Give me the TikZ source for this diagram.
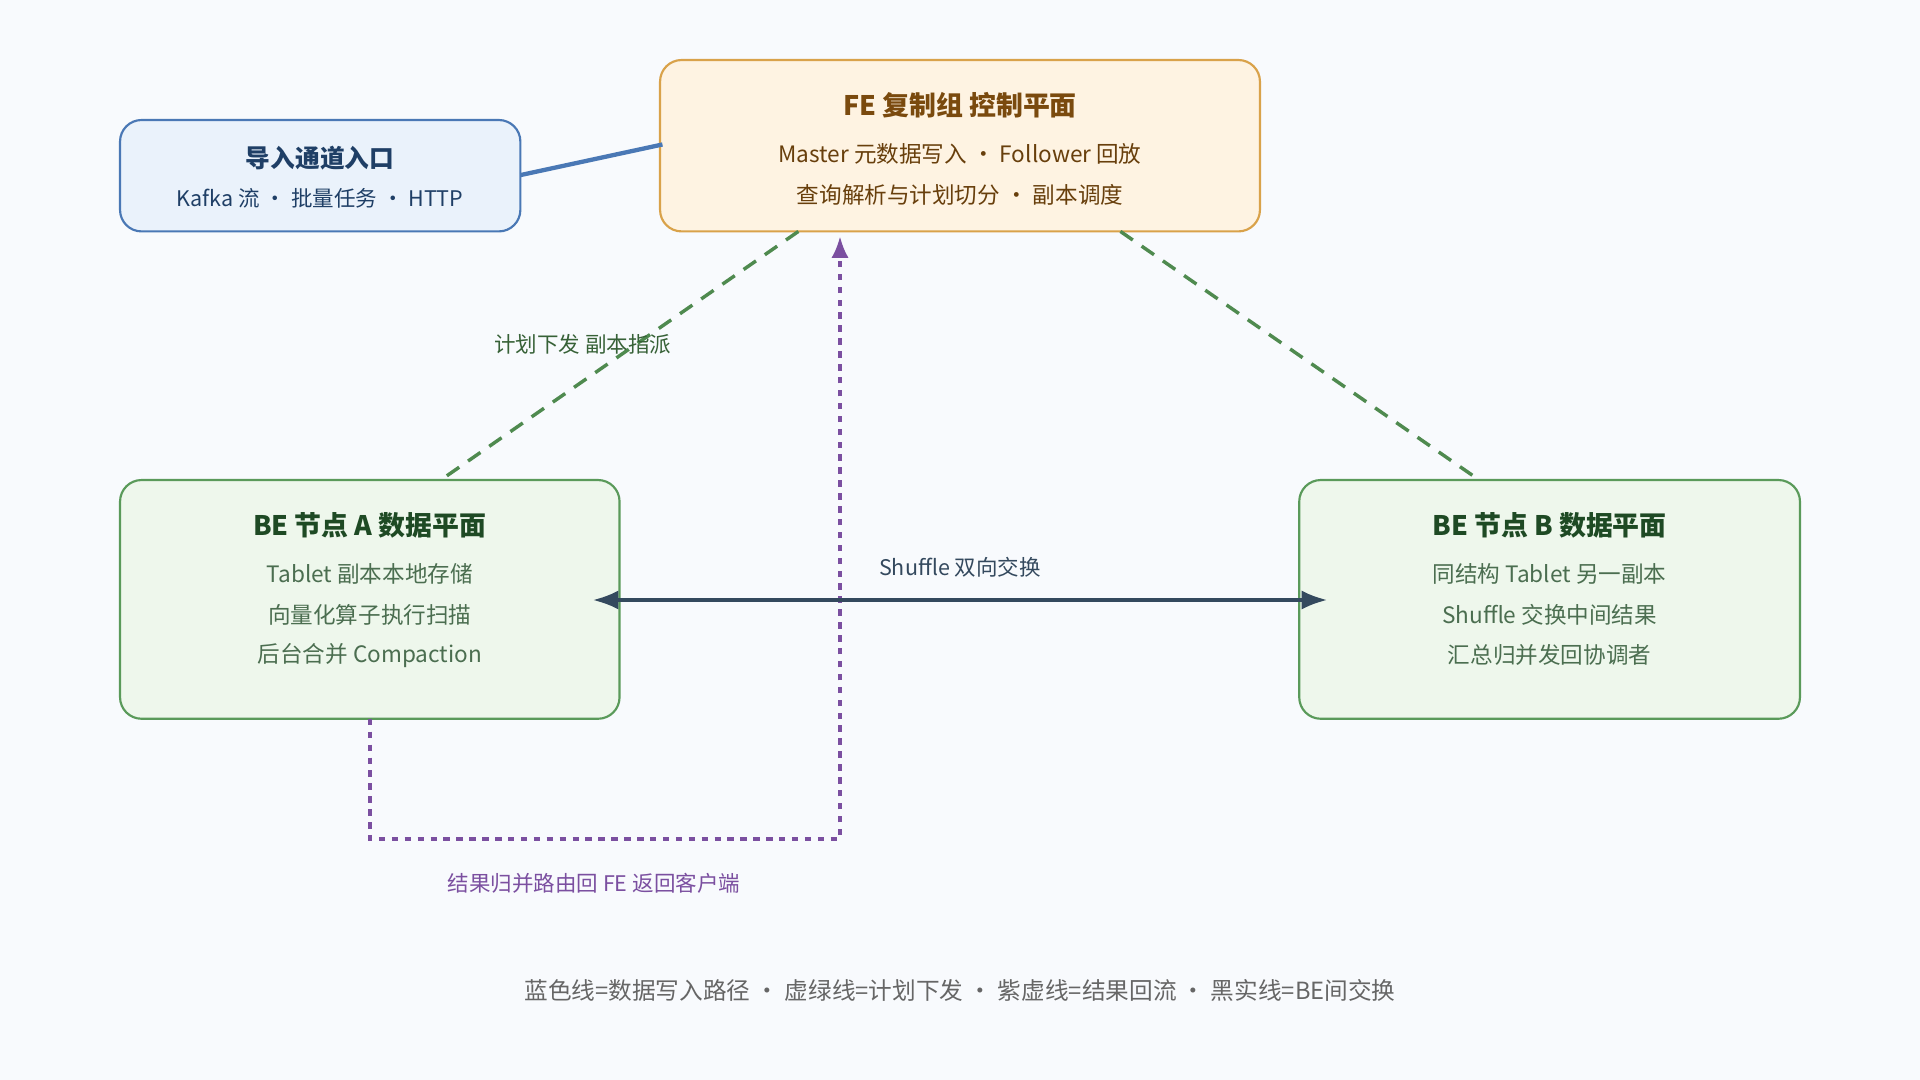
\documentclass[tikz,border=0pt]{standalone}
\usepackage{fontspec}
\setmainfont{Noto Sans CJK SC}
\usetikzlibrary{arrows.meta}
\definecolor{bgc}{HTML}{F8FAFD}
\definecolor{fefill}{HTML}{FEF3E2}
\definecolor{fedraw}{HTML}{D9A24A}
\definecolor{fetext}{HTML}{7A4A0E}
\definecolor{infill}{HTML}{EAF2FB}
\definecolor{indraw}{HTML}{4A78B5}
\definecolor{intext}{HTML}{1F3F66}
\definecolor{befill}{HTML}{EEF7EC}
\definecolor{bedraw}{HTML}{5A9A5A}
\definecolor{betext}{HTML}{1E4A24}
\definecolor{plangreen}{HTML}{4F8A4F}
\definecolor{backpurple}{HTML}{7B4FA0}
\definecolor{shufc}{HTML}{34495E}
\tikzset{
  box/.style={rounded corners=10pt,line width=1pt,align=center,inner sep=0pt},
  ttl/.style={font=\fontsize{12.5}{15}\selectfont\bfseries},
  txt/.style={font=\fontsize{10.5}{17}\selectfont},
}
\begin{document}
\begin{tikzpicture}[x=0.02cm,y=-0.02cm]
    \fill[bgc] (0,0) rectangle (1568,882);
    \useasboundingbox (0,0) rectangle (1568,882);

    \node[box,fill=fefill,draw=fedraw,minimum width=9.8cm,minimum height=2.8cm] (fe) at (784,119) {};
    \node[ttl,text=fetext] at (784,86) {FE 复制组 控制平面};
    \node[txt,text=fetext!85!black] at (784,126) {Master 元数据写入 · Follower 回放};
    \node[txt,text=fetext!85!black] at (784,159) {查询解析与计划切分 · 副本调度};

    \node[box,fill=infill,draw=indraw,minimum width=6.54cm,minimum height=1.82cm] (ingest) at (261.5,143.5) {};
    \node[ttl,text=intext,font=\fontsize{11.5}{14}\selectfont\bfseries] at (261.5,129) {导入通道入口};
    \node[txt,text=intext,font=\fontsize{10}{14}\selectfont] at (261.5,162) {Kafka 流 · 批量任务 · HTTP};

    \node[box,fill=befill,draw=bedraw,minimum width=8.16cm,minimum height=3.9cm] (bea) at (302,489.5) {};
    \node[ttl,text=betext] at (302,429) {BE 节点 A 数据平面};
    \node[txt,text=betext!80] at (302,469) {Tablet 副本本地存储};
    \node[txt,text=betext!80] at (302,502) {向量化算子执行扫描};
    \node[txt,text=betext!80] at (302,535) {后台合并 Compaction};

    \node[box,fill=befill,draw=bedraw,minimum width=8.18cm,minimum height=3.9cm] (beb) at (1265.5,489.5) {};
    \node[ttl,text=betext] at (1265.5,429) {BE 节点 B 数据平面};
    \node[txt,text=betext!80] at (1265.5,469) {同结构 Tablet 另一副本};
    \node[txt,text=betext!80] at (1265.5,502) {Shuffle 交换中间结果};
    \node[txt,text=betext!80] at (1265.5,535) {汇总归并发回协调者};

    \coordinate (inR) at (425,143);
    \coordinate (feL) at (541,118);
    \draw[indraw,line width=2pt] (inR) -- (feL);

    \coordinate (feA) at (652,189);
    \coordinate (feB) at (915,189);
    \coordinate (aT) at (360,392);
    \coordinate (bT) at (1208,392);
    \draw[plangreen,line width=1.6pt,dash pattern=on 7pt off 5pt] (feA) -- (aT);
    \draw[plangreen,line width=1.6pt,dash pattern=on 7pt off 5pt] (feB) -- (bT);
    \node[txt,text=plangreen!70!black,font=\fontsize{10}{12}\selectfont] at (476,281) {计划下发 副本指派};

    \coordinate (aB) at (302,587);
    \coordinate (feIn) at (686,193);
    \draw[backpurple,line width=1.6pt,dash pattern=on 3pt off 3pt,-{Latex[length=10pt,width=8pt]}]
        (aB) -- (302,685) -- (686,685) -- (feIn);
    \node[txt,text=backpurple,font=\fontsize{10}{12}\selectfont] at (485,721) {结果归并路由回 FE 返回客户端};

    \coordinate (shA) at (484,490);
    \coordinate (shB) at (1084,490);
    \draw[shufc,line width=1.8pt,{Latex[length=12pt,width=9pt]}-{Latex[length=12pt,width=9pt]}] (shA) -- (shB);
    \node[txt,text=shufc,font=\fontsize{10}{12}\selectfont] at (784,463) {Shuffle 双向交换};

    \node[txt,text=black!60,font=\fontsize{11}{13}\selectfont] (legend) at (784,809) {蓝色线=数据写入路径 · 虚绿线=计划下发 · 紫虚线=结果回流 · 黑实线=BE间交换};
\end{tikzpicture}
\end{document}
